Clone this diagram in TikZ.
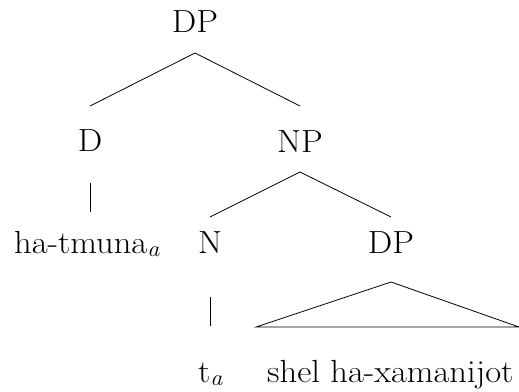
\documentclass[tikz,border=0pt]{standalone}
\usepackage{fontspec}
\setmainfont[FakeStretch=1.08]{Latin Modern Roman}
\begin{document}
\begin{tikzpicture}[x=1pt,y=-1pt,
  lbl/.style={inner sep=0pt,anchor=base,font=\fontsize{32}{38}\selectfont},
  lblw/.style={lbl,anchor=base west},
  branch/.style={line width=0.8pt}]
\useasboundingbox (0,0) rectangle (519,391);
% categories and words
\node[lbl]  (dp0) at (195,32)  {DP};
\node[lbl]  (d)   at (90,151)  {D};
\node[lbl]  (np)  at (300,152) {NP};
\node[lblw] (hat) at (14,253)  {ha-tmuna\textsubscript{\itshape a}};
\node[lbl]  (n)   at (210,253) {N};
\node[lbl]  (dp2) at (391,253) {DP};
\node[lblw] (t)   at (198,382) {t\textsubscript{\itshape a}};
\node[lblw] (shel) at (267,382) {shel ha-xamanijot};
% branches
\coordinate (dp0b) at ([yshift=-21pt]dp0.base);
\coordinate (db)   at ([yshift=45pt]d.base);
\coordinate (npt)  at ([yshift=46pt]np.base);
\draw[branch] (dp0b) -- (db);
\draw[branch] (dp0b) -- (npt);
\draw[branch] ([yshift=-32pt]d.base) -- ([yshift=-61pt]d.base);
\coordinate (npb) at ([yshift=-20pt]np.base);
\draw[branch] (npb) -- ([yshift=36pt]n.base);
\draw[branch] (npb) -- ([yshift=36pt]dp2.base);
\draw[branch] ([yshift=-44pt]n.base) -- ([yshift=-73pt]n.base);
% triangle over the unanalysed phrase
\coordinate (apex) at ([yshift=-29pt]dp2.base);
\coordinate (tl) at ([xshift=-135pt,yshift=-74pt]dp2.base);
\coordinate (tr) at ([xshift=128pt,yshift=-74pt]dp2.base);
\draw[branch] (apex) -- (tl) -- (tr) -- cycle;
\end{tikzpicture}
\end{document}
